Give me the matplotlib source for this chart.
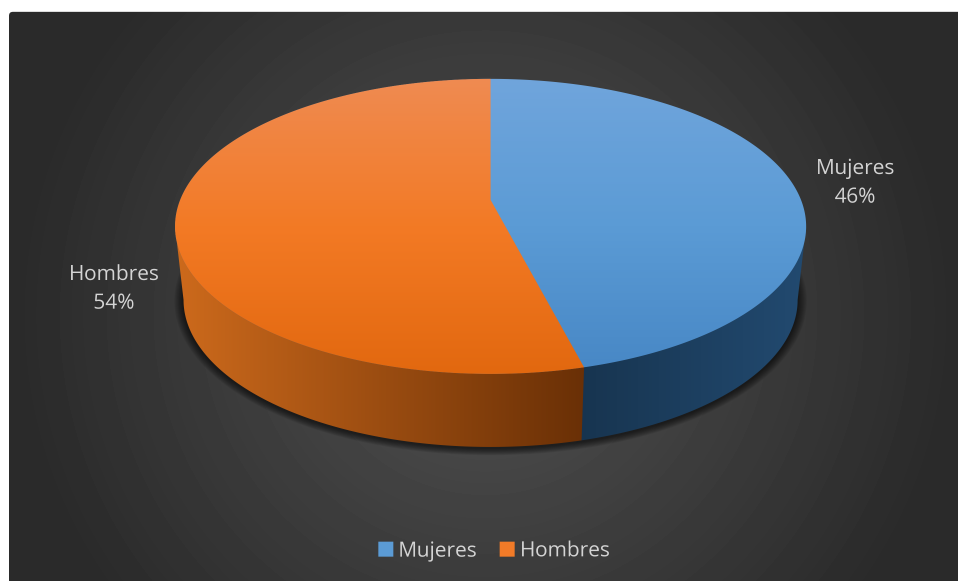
import matplotlib
matplotlib.use('Agg')
import matplotlib.pyplot as plt
import numpy as np
from matplotlib.patches import Ellipse, Polygon, Patch, FancyBboxPatch

labels = ['Mujeres', 'Hombres']
values = [46, 54]
legend_colors = ['#5b9bd5', '#f27b28']
top_colors = [['#70a5dc', '#5b9bd5', '#4787c5'], ['#ef8b52', '#f37a25', '#e2680f']]
side_colors = [['#17344f', '#224a70'], ['#cd6a1c', '#6a3006']]

plt.rcParams['font.family'] = ['Open Sans', 'DejaVu Sans']

W = 958
H = 581
SCALE = 3
cx = 490.5
cy_top = 226.5
rx_top = 315.5
ry_top = 147.5
cy_low = 300
rx_low = 307
ry_low = 147
tilt = 0.18


# angle (from the top, clockwise) -> picture position, disc seen in perspective
def project(t, cy, rx, ry):
    u = np.sin(t)
    v = np.cos(t)
    w = 1 + tilt * v
    x = u * np.sqrt(1 - tilt ** 2) / w
    y = (v + tilt) / w
    return cx + rx * x, cy - ry * y


def gradient(stops, n=256):
    rgb = np.array([matplotlib.colors.to_rgb(c) for c in stops])
    pos = np.linspace(0, 1, len(stops))
    s = np.linspace(0, 1, n)
    return np.stack([np.interp(s, pos, rgb[:, i]) for i in range(3)], axis=1)


# the extra half pixel keeps the canvas from rounding down
fig = plt.figure(figsize=((W * SCALE + 0.5) / (100 * SCALE), (H * SCALE + 0.5) / (100 * SCALE)), dpi=100 * SCALE, facecolor='white')
ax = fig.add_axes([0, 0, 1, 1])
ax.set_xlim(0, W)
ax.set_ylim(H, 0)
ax.axis('off')

# dark background
yy, xx = np.mgrid[0:H, 0:W]
d = np.hypot(xx - 485, yy - 315)
grey = np.clip(0x52 - 0.085 * d, 0x2a, 0x52) / 255
bg = ax.imshow(grey, cmap='gray', vmin=0, vmax=1, extent=(0, W, H, 0), zorder=1, aspect='auto')
frame = FancyBboxPatch((12, 15), W, H, boxstyle='round,pad=3,rounding_size=4', fc='none', ec='none', transform=ax.transData)
ax.add_patch(frame)
bg.set_clip_path(frame)

# shadow under the pie
for i in range(9):
    grow = 9 - i
    ax.add_patch(Ellipse((cx, cy_low + 1), 2 * (rx_low + grow), 2 * (ry_low + grow * 0.8), fc='black', ec='none', alpha=0.08, zorder=2))

# slice angles
shares = np.array(values) / np.sum(values)
edges = np.concatenate([[0], np.cumsum(shares)]) * 2 * np.pi
t_right = np.arccos(-tilt)
t_left = 2 * np.pi - t_right
t_split = edges[1]

# side walls, only the front part shows
side_ranges = [(t_right, t_split + 0.02), (t_split, t_left)]
for i in range(2):
    t = np.linspace(side_ranges[i][0], side_ranges[i][1], 200)
    x1, y1 = project(t, cy_top, rx_top, ry_top)
    x2, y2 = project(t, cy_low, rx_low, ry_low)
    pts = np.concatenate([np.column_stack([x1, y1]), np.column_stack([x2, y2])[::-1]])
    poly = Polygon(pts, closed=True, fc='none', ec='none', zorder=3)
    ax.add_patch(poly)
    img = gradient(side_colors[i])[np.newaxis, :, :]
    im = ax.imshow(img, extent=(pts[:, 0].min(), pts[:, 0].max(), 450, 220), aspect='auto', zorder=3 + 0.1 * i, interpolation='bilinear')
    im.set_clip_path(poly)

# top of the pie, first slice goes under the whole disc so no seam shows
apex = (cx, cy_top - ry_top * tilt)
for i in range(2):
    t = np.linspace(edges[i], edges[i + 1], 300)
    x1, y1 = project(t, cy_top, rx_top, ry_top)
    pts = np.vstack([[apex], np.column_stack([x1, y1])])
    if i == 0:
        t = np.linspace(0, 2 * np.pi, 600)
        x1, y1 = project(t, cy_top, rx_top, ry_top)
        pts = np.column_stack([x1, y1])
    poly = Polygon(pts, closed=True, fc='none', ec='none', zorder=4)
    ax.add_patch(poly)
    img = gradient(top_colors[i])[:, np.newaxis, :]
    im = ax.imshow(img, extent=(170, 810, 375, 78), aspect='auto', zorder=4 + 0.1 * i, interpolation='bilinear')
    im.set_clip_path(poly)

ax.set_xlim(0, W)
ax.set_ylim(H, 0)

# data labels
label_pos = [(855, 183), (114, 289)]
for i in range(2):
    ax.text(label_pos[i][0], label_pos[i][1], '%s\n%d%%' % (labels[i], values[i]), color='#d4d4d4', fontsize=15,
            ha='center', va='center', linespacing=1.5, zorder=5)

# legend
handles = [Patch(fc=legend_colors[i], ec='none', label=labels[i]) for i in range(2)]
leg = ax.legend(handles=handles, loc='center', bbox_to_anchor=(494 / W, 1 - 551 / H), ncol=2, frameon=False,
                fontsize=15, labelcolor='#d4d4d4', handlelength=0.72, handleheight=0.72, handletextpad=0.24,
                columnspacing=1.1, borderpad=0)
leg.set_zorder(6)

# draw large and shrink, clipped images have jagged edges otherwise
fig.canvas.draw()
rgba = np.asarray(fig.canvas.buffer_rgba())[:H * SCALE, :W * SCALE, :3].astype(float)
small = rgba.reshape(H, SCALE, W, SCALE, 3).mean(axis=(1, 3)) / 255
plt.imsave('out.png', small)
